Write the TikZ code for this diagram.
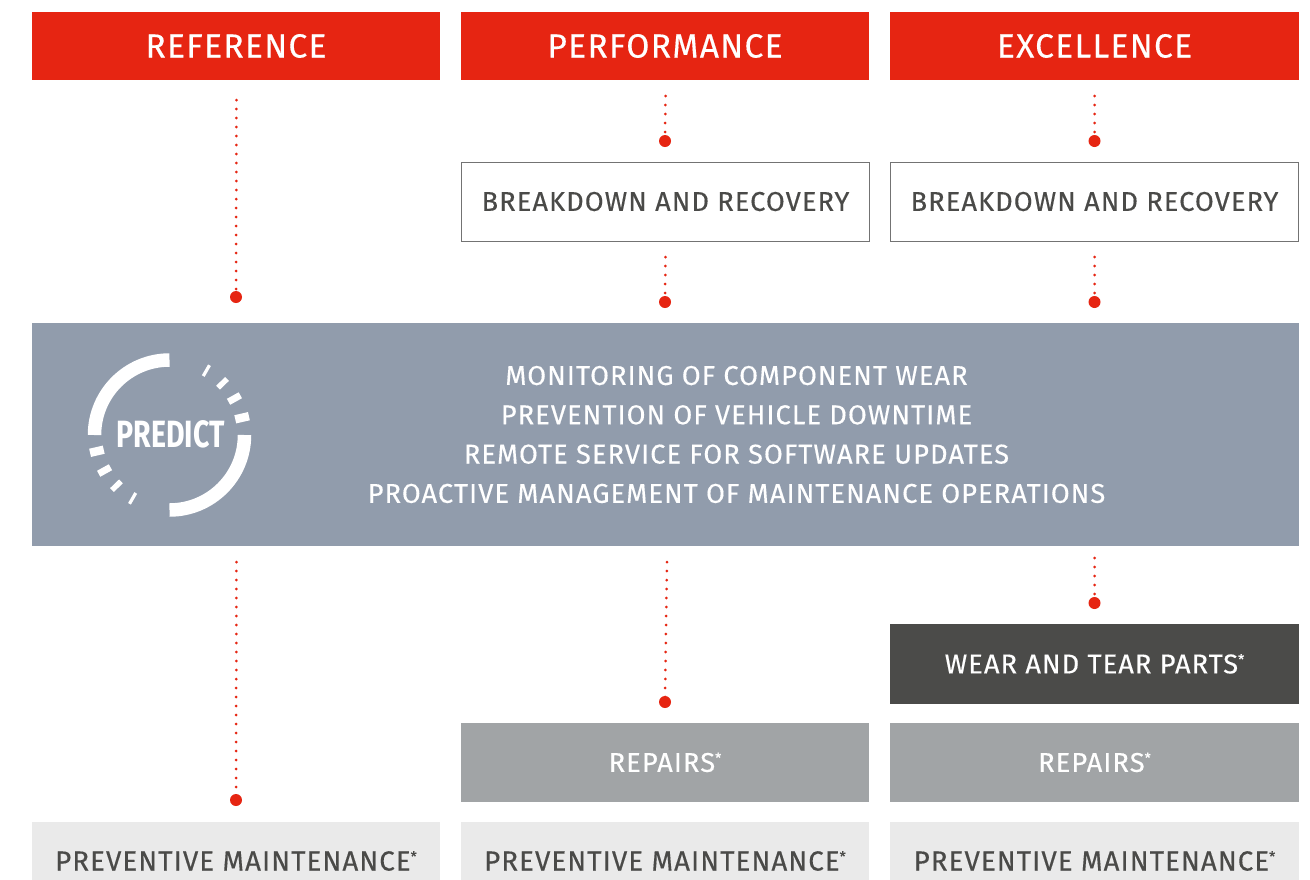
\documentclass[tikz,border=0pt]{standalone}
\usepackage{fontspec}
\setmainfont{Fira Sans}
\newfontfamily\dinfont[LetterSpace=4,FakeBold=0.35]{Fira Sans}
\newfontfamily\dinbold{Fira Sans}
\usetikzlibrary{calc}
\definecolor{brandred}{HTML}{E62512}
\definecolor{slate}{HTML}{919CAC}
\definecolor{darkbox}{HTML}{4B4B49}
\definecolor{midbox}{HTML}{A1A4A6}
\definecolor{lightbox}{HTML}{EAEAEA}
\definecolor{boxtext}{HTML}{4A4A48}
\tikzset{
  x=1pt,y=-1pt,
  boxbase/.style={rectangle,inner sep=0,minimum width=408.6pt,font=\dinfont\fontsize{27.2}{30}\selectfont},
  headbox/.style={boxbase,fill=brandred,text=white,minimum height=68pt,font=\dinfont\fontsize{33.5}{36}\selectfont},
  outlinebox/.style={boxbase,draw=black!55,line width=0.8pt,fill=white,text=boxtext,minimum height=79pt},
  wearbox/.style={boxbase,fill=darkbox,text=white,minimum height=80pt},
  repairbox/.style={boxbase,fill=midbox,text=white,minimum height=79pt},
  prevbox/.style={boxbase,fill=lightbox,text=boxtext,minimum height=78pt,font=\dinfont\fontsize{27.6}{30}\selectfont},
  band/.style={rectangle,fill=slate,inner sep=0,minimum width=1267pt,minimum height=223pt},
  bandtext/.style={text=white,align=center,inner sep=0,font=\dinfont\fontsize{27.2}{39.3}\selectfont},
  reddot/.style={circle,fill=brandred,inner sep=0,minimum size=12pt},
  dotline/.style={brandred,line width=3pt,line cap=round,dash pattern=on 0pt off 9pt},
  ringarc/.style={white,line width=13.5pt},
  tick/.style={white}
}
\newcommand{\astmark}{\smash{\raisebox{9pt}{\fontsize{14}{14}\selectfont *}}}
\newcommand{\wedgetick}[4]{% angle, half width, r1, r2
  \fill[tick] ($(ic)+(#1:#3)+(#1+90:#2)$) -- ($(ic)+(#1:#4)+(#1+90:#2)$) -- ($(ic)+(#1:#4)+(#1-90:#2)$) -- ($(ic)+(#1:#3)+(#1-90:#2)$) -- cycle;}
\begin{document}
\begin{tikzpicture}
\useasboundingbox (0,0) rectangle (1310,879);
\fill[white] (0,0) rectangle (1310,879);
\begin{scope}
\clip (0,0) rectangle (1310,879);
\node[headbox] (h1) at (236,46) {REFERENCE};
\node[headbox] (h2) at (665,46) {PERFORMANCE};
\node[headbox] (h3) at (1094.5,46) {EXCELLENCE};
\node[outlinebox] (b2) at (665.5,201.5) {BREAKDOWN AND RECOVERY};
\node[outlinebox] (b3) at (1094.5,201.5) {BREAKDOWN AND RECOVERY};
\node[band] (band) at (665.5,434.5) {};
\node[bandtext] (bt) at (736.5,434.5) {MONITORING OF COMPONENT WEAR\\PREVENTION OF VEHICLE DOWNTIME\\REMOTE SERVICE FOR SOFTWARE UPDATES\\PROACTIVE MANAGEMENT OF MAINTENANCE OPERATIONS};
\node[wearbox] (w3) at (1094.5,664) {WEAR AND TEAR PARTS\astmark};
\node[repairbox] (r2) at (665,762.5) {REPAIRS\astmark};
\node[repairbox] (r3) at (1094.5,762.5) {REPAIRS\astmark};
\node[prevbox] (p1) at (236,861) {PREVENTIVE MAINTENANCE\astmark};
\node[prevbox] (p2) at (665,861) {PREVENTIVE MAINTENANCE\astmark};
\node[prevbox] (p3) at (1094.5,861) {PREVENTIVE MAINTENANCE\astmark};
\end{scope}
% dots
\node[reddot] (d1) at (236,297) {};
\node[reddot] (d2) at (665,141) {};
\node[reddot] (d3) at (1094.5,141) {};
\node[reddot] (d4) at (665,302) {};
\node[reddot] (d5) at (1094.5,302) {};
\node[reddot] (d6) at (236,800) {};
\node[reddot] (d7) at (665,702) {};
\node[reddot] (d8) at (1094.5,603) {};
% free ends
\coordinate (s1) at (236.5,100);
\coordinate (s2) at (665.5,96);
\coordinate (s3) at (1094.5,96);
\coordinate (s4) at (665.5,257);
\coordinate (s5) at (1094.5,257);
\coordinate (s6) at (236.5,562);
\coordinate (s7) at (667,562);
\coordinate (s8) at (1094.5,558);
\foreach \a/\b in {s1/d1,s2/d2,s3/d3,s4/d4,s5/d5,s6/d6,s7/d7,s8/d8}
  \draw[dotline] (\a) -- (\b.center);
% icon
\coordinate (ic) at (169.5,434.5);
\draw[ringarc] (94.5,435) arc[start angle=180,end angle=270,radius=75];
\draw[ringarc] (244.5,435) arc[start angle=0,end angle=90,radius=75];
\wedgetick{-13}{4.2}{67.5}{81.5}
\wedgetick{-29}{3.4}{67.5}{81}
\wedgetick{-44}{2.7}{67.5}{80}
\wedgetick{-60}{1.6}{67.5}{80}
\wedgetick{-193}{4.2}{67.5}{81.5}
\wedgetick{-209}{3.4}{67.5}{81}
\wedgetick{-224}{2.7}{67.5}{80}
\wedgetick{-240}{1.6}{67.5}{80}
\node[text=white,inner sep=0] (pred) at (170.5,434.5) {\scalebox{0.75}[1]{\dinbold\bfseries\fontsize{38}{40}\selectfont PREDICT}};
\end{tikzpicture}
\end{document}
